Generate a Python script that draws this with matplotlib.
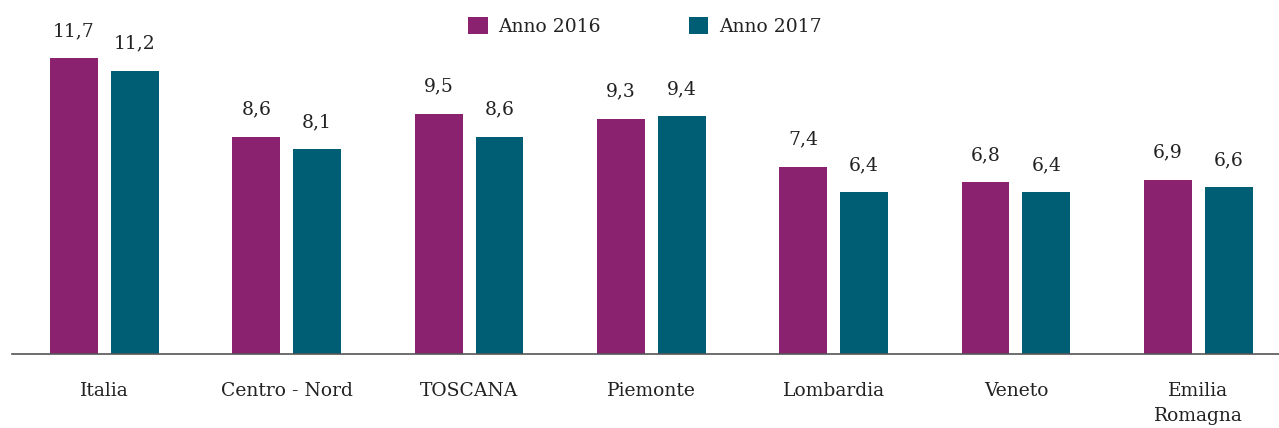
import numpy as np
import matplotlib
matplotlib.use('Agg')
from matplotlib import pyplot as plt

regions = ['Italia', 'Centro - Nord', 'TOSCANA', 'Piemonte', 'Lombardia', 'Veneto', 'Emilia\nRomagna']
anno_2016 = [11.7, 8.6, 9.5, 9.3, 7.4, 6.8, 6.9]
anno_2017 = [11.2, 8.1, 8.6, 9.4, 6.4, 6.4, 6.6]

purple = '#8A2270'
teal = '#005E74'
text_col = '#222222'

plt.rcParams['font.family'] = ['DejaVu Serif']

fig = plt.figure(figsize=(12.79, 4.28), dpi=100)
ax = fig.add_axes([12 / 1279, 74 / 428, 1 - 12 / 1279, 354 / 428])

x = np.arange(len(regions))
w = 0.263
off = 0.167
b1 = ax.bar(x - off, anno_2016, w, color=purple, label='Anno 2016')
b2 = ax.bar(x + off, anno_2017, w, color=teal, label='Anno 2017')

# etichette con la virgola decimale
for bars, vals in ((b1, anno_2016), (b2, anno_2017)):
    for rect, v in zip(bars, vals):
        ax.annotate(f'{v:.1f}'.replace('.', ','), (rect.get_x() + rect.get_width() / 2, v),
                    textcoords='offset points', xytext=(0, 13), ha='center', va='bottom',
                    fontsize=13.5, color=text_col)

ax.set_xlim(-0.507, 6.443)
ax.set_ylim(0, 14)
ax.set_xticks(x)
ax.set_xticklabels(regions, fontsize=13.5, color=text_col, linespacing=1.5)
ax.tick_params(axis='x', length=0, pad=20)
ax.set_yticks([])
for s in ['top', 'right', 'left']:
    ax.spines[s].set_visible(False)
ax.spines['bottom'].set_color('#555555')
ax.spines['bottom'].set_linewidth(1.2)

leg = fig.legend(loc='upper center', bbox_to_anchor=(0.504, 1.0), ncol=2, frameon=False,
                 fontsize=13.5, handlelength=1.05, handleheight=1.05, handletextpad=0.55,
                 columnspacing=4.7, labelcolor=text_col)

plt.savefig('out.png', dpi=100)
